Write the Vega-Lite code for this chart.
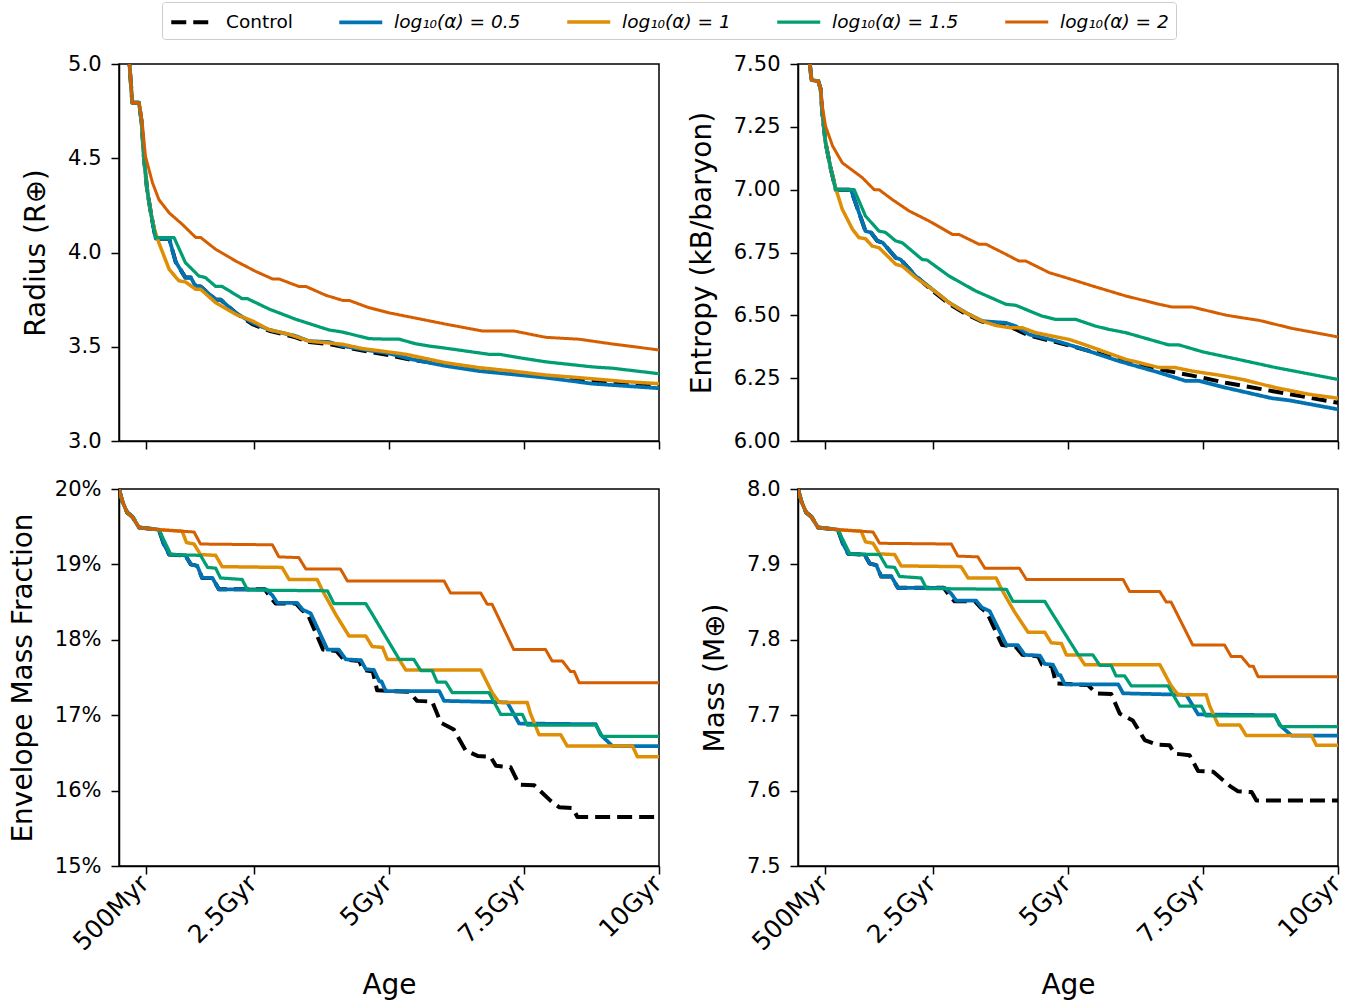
{
  "$schema": "https://vega.github.io/schema/vega-lite/v6.json",
  "padding": {"left": 8, "top": 1, "right": 10, "bottom": 4},
  "background": "white",
  "config": {
    "font": "DejaVu Sans",
    "view": {"stroke": "black", "strokeWidth": 1.5},
    "axis": {
      "labelFont": "DejaVu Sans", "labelFontSize": 21, "labelColor": "black",
      "titleFont": "DejaVu Sans", "titleFontSize": 28, "titleFontWeight": "normal", "titleColor": "black",
      "tickSize": 8, "tickWidth": 1.5, "tickColor": "black",
      "domainColor": "black", "domainWidth": 1.5, "grid": false, "labelPadding": 10
    },
    "legend": {
      "labelFont": "DejaVu Sans", "labelFontSize": 18.5, "labelColor": "black"
    },
    "line": {"strokeCap": "butt", "strokeJoin": "round"}
  },
  "datasets": {
    "rad": [
      {"s":"Control","x":0.12,"y":5.3},{"s":"Control","x":0.194,"y":5.0},{"s":"Control","x":0.246,"y":4.795},{"s":"Control","x":0.37,"y":4.795},{"s":"Control","x":0.42,"y":4.69},{"s":"Control","x":0.46,"y":4.51},{"s":"Control","x":0.52,"y":4.335},{"s":"Control","x":0.59,"y":4.21},{"s":"Control","x":0.68,"y":4.073},{"s":"Control","x":0.93,"y":4.073},{"s":"Control","x":1.05,"y":3.95},{"s":"Control","x":1.23,"y":3.867},{"s":"Control","x":1.33,"y":3.867},{"s":"Control","x":1.42,"y":3.82},{"s":"Control","x":1.51,"y":3.82},{"s":"Control","x":1.79,"y":3.75},{"s":"Control","x":1.88,"y":3.75},{"s":"Control","x":2.16,"y":3.68},{"s":"Control","x":2.47,"y":3.62},{"s":"Control","x":2.78,"y":3.585},{"s":"Control","x":3.27,"y":3.55},{"s":"Control","x":3.52,"y":3.525},{"s":"Control","x":3.89,"y":3.515},{"s":"Control","x":4.14,"y":3.5},{"s":"Control","x":4.51,"y":3.48},{"s":"Control","x":5.0,"y":3.455},{"s":"Control","x":5.43,"y":3.43},{"s":"Control","x":6.05,"y":3.407},{"s":"Control","x":6.67,"y":3.385},{"s":"Control","x":7.28,"y":3.365},{"s":"Control","x":7.9,"y":3.345},{"s":"Control","x":8.77,"y":3.32},{"s":"Control","x":10,"y":3.297},
      {"s":"0.5","x":0.12,"y":5.3},{"s":"0.5","x":0.194,"y":5.0},{"s":"0.5","x":0.246,"y":4.795},{"s":"0.5","x":0.37,"y":4.795},{"s":"0.5","x":0.42,"y":4.69},{"s":"0.5","x":0.46,"y":4.51},{"s":"0.5","x":0.52,"y":4.335},{"s":"0.5","x":0.59,"y":4.21},{"s":"0.5","x":0.68,"y":4.073},{"s":"0.5","x":0.93,"y":4.073},{"s":"0.5","x":1.05,"y":3.95},{"s":"0.5","x":1.23,"y":3.867},{"s":"0.5","x":1.33,"y":3.867},{"s":"0.5","x":1.42,"y":3.82},{"s":"0.5","x":1.51,"y":3.82},{"s":"0.5","x":1.79,"y":3.75},{"s":"0.5","x":1.88,"y":3.75},{"s":"0.5","x":2.16,"y":3.68},{"s":"0.5","x":2.47,"y":3.627},{"s":"0.5","x":2.78,"y":3.59},{"s":"0.5","x":3.27,"y":3.557},{"s":"0.5","x":3.52,"y":3.53},{"s":"0.5","x":3.89,"y":3.525},{"s":"0.5","x":4.14,"y":3.504},{"s":"0.5","x":4.51,"y":3.486},{"s":"0.5","x":5.0,"y":3.465},{"s":"0.5","x":5.43,"y":3.433},{"s":"0.5","x":6.05,"y":3.398},{"s":"0.5","x":6.67,"y":3.371},{"s":"0.5","x":7.28,"y":3.354},{"s":"0.5","x":7.9,"y":3.336},{"s":"0.5","x":8.77,"y":3.304},{"s":"0.5","x":10,"y":3.28},
      {"s":"1","x":0.12,"y":5.3},{"s":"1","x":0.194,"y":5.0},{"s":"1","x":0.246,"y":4.795},{"s":"1","x":0.37,"y":4.795},{"s":"1","x":0.42,"y":4.69},{"s":"1","x":0.46,"y":4.51},{"s":"1","x":0.52,"y":4.335},{"s":"1","x":0.59,"y":4.21},{"s":"1","x":0.66,"y":4.12},{"s":"1","x":0.74,"y":4.05},{"s":"1","x":0.93,"y":3.91},{"s":"1","x":1.11,"y":3.85},{"s":"1","x":1.23,"y":3.844},{"s":"1","x":1.42,"y":3.805},{"s":"1","x":1.51,"y":3.805},{"s":"1","x":1.79,"y":3.734},{"s":"1","x":2.16,"y":3.672},{"s":"1","x":2.47,"y":3.637},{"s":"1","x":2.78,"y":3.59},{"s":"1","x":3.15,"y":3.566},{"s":"1","x":3.52,"y":3.53},{"s":"1","x":4.14,"y":3.513},{"s":"1","x":4.51,"y":3.49},{"s":"1","x":5.0,"y":3.472},{"s":"1","x":5.31,"y":3.46},{"s":"1","x":6.05,"y":3.415},{"s":"1","x":6.67,"y":3.389},{"s":"1","x":7.28,"y":3.371},{"s":"1","x":7.9,"y":3.35},{"s":"1","x":8.52,"y":3.336},{"s":"1","x":9.38,"y":3.315},{"s":"1","x":10,"y":3.304},
      {"s":"1.5","x":0.12,"y":5.3},{"s":"1.5","x":0.194,"y":5.0},{"s":"1.5","x":0.246,"y":4.795},{"s":"1.5","x":0.37,"y":4.795},{"s":"1.5","x":0.42,"y":4.69},{"s":"1.5","x":0.46,"y":4.51},{"s":"1.5","x":0.52,"y":4.335},{"s":"1.5","x":0.59,"y":4.21},{"s":"1.5","x":0.68,"y":4.079},{"s":"1.5","x":1.02,"y":4.079},{"s":"1.5","x":1.23,"y":3.946},{"s":"1.5","x":1.48,"y":3.875},{"s":"1.5","x":1.6,"y":3.867},{"s":"1.5","x":1.79,"y":3.82},{"s":"1.5","x":1.91,"y":3.82},{"s":"1.5","x":2.28,"y":3.755},{"s":"1.5","x":2.38,"y":3.755},{"s":"1.5","x":2.78,"y":3.7},{"s":"1.5","x":3.27,"y":3.646},{"s":"1.5","x":3.89,"y":3.589},{"s":"1.5","x":4.14,"y":3.578},{"s":"1.5","x":4.63,"y":3.543},{"s":"1.5","x":5.0,"y":3.54},{"s":"1.5","x":5.19,"y":3.54},{"s":"1.5","x":5.49,"y":3.516},{"s":"1.5","x":5.74,"y":3.504},{"s":"1.5","x":6.11,"y":3.49},{"s":"1.5","x":6.85,"y":3.46},{"s":"1.5","x":7.04,"y":3.46},{"s":"1.5","x":7.41,"y":3.442},{"s":"1.5","x":7.9,"y":3.42},{"s":"1.5","x":8.77,"y":3.393},{"s":"1.5","x":9.14,"y":3.386},{"s":"1.5","x":10,"y":3.357},
      {"s":"2","x":0.12,"y":5.3},{"s":"2","x":0.194,"y":5.0},{"s":"2","x":0.246,"y":4.795},{"s":"2","x":0.37,"y":4.795},{"s":"2","x":0.43,"y":4.69},{"s":"2","x":0.49,"y":4.51},{"s":"2","x":0.62,"y":4.37},{"s":"2","x":0.74,"y":4.28},{"s":"2","x":0.93,"y":4.21},{"s":"2","x":1.17,"y":4.15},{"s":"2","x":1.42,"y":4.08},{"s":"2","x":1.51,"y":4.08},{"s":"2","x":1.79,"y":4.017},{"s":"2","x":2.16,"y":3.955},{"s":"2","x":2.53,"y":3.9},{"s":"2","x":2.84,"y":3.86},{"s":"2","x":2.96,"y":3.86},{"s":"2","x":3.33,"y":3.82},{"s":"2","x":3.46,"y":3.82},{"s":"2","x":3.83,"y":3.773},{"s":"2","x":4.14,"y":3.746},{"s":"2","x":4.26,"y":3.746},{"s":"2","x":4.63,"y":3.707},{"s":"2","x":5.0,"y":3.68},{"s":"2","x":6.05,"y":3.62},{"s":"2","x":6.72,"y":3.584},{"s":"2","x":7.31,"y":3.584},{"s":"2","x":7.9,"y":3.55},{"s":"2","x":8.52,"y":3.54},{"s":"2","x":9.13,"y":3.515},{"s":"2","x":10,"y":3.483}
    ],
    "ent": [
      {"s":"Control","x":0.15,"y":7.85},{"s":"Control","x":0.22,"y":7.5},{"s":"Control","x":0.25,"y":7.436},{"s":"Control","x":0.375,"y":7.432},{"s":"Control","x":0.42,"y":7.4},{"s":"Control","x":0.45,"y":7.306},{"s":"Control","x":0.51,"y":7.187},{"s":"Control","x":0.61,"y":7.08},{"s":"Control","x":0.7,"y":7.0},{"s":"Control","x":0.98,"y":7.0},{"s":"Control","x":1.25,"y":6.835},{"s":"Control","x":1.35,"y":6.83},{"s":"Control","x":1.47,"y":6.796},{"s":"Control","x":1.57,"y":6.789},{"s":"Control","x":1.81,"y":6.729},{"s":"Control","x":1.9,"y":6.722},{"s":"Control","x":2.18,"y":6.656},{"s":"Control","x":2.49,"y":6.598},{"s":"Control","x":2.8,"y":6.545},{"s":"Control","x":3.11,"y":6.505},{"s":"Control","x":3.41,"y":6.475},{"s":"Control","x":3.85,"y":6.462},{"s":"Control","x":4.28,"y":6.42},{"s":"Control","x":4.65,"y":6.4},{"s":"Control","x":4.83,"y":6.391},{"s":"Control","x":5.2,"y":6.37},{"s":"Control","x":5.94,"y":6.325},{"s":"Control","x":6.69,"y":6.285},{"s":"Control","x":7.3,"y":6.26},{"s":"Control","x":7.92,"y":6.232},{"s":"Control","x":8.85,"y":6.196},{"s":"Control","x":10,"y":6.152},
      {"s":"0.5","x":0.15,"y":7.85},{"s":"0.5","x":0.22,"y":7.5},{"s":"0.5","x":0.25,"y":7.436},{"s":"0.5","x":0.375,"y":7.432},{"s":"0.5","x":0.42,"y":7.4},{"s":"0.5","x":0.45,"y":7.306},{"s":"0.5","x":0.51,"y":7.187},{"s":"0.5","x":0.61,"y":7.08},{"s":"0.5","x":0.7,"y":7.0},{"s":"0.5","x":0.98,"y":7.0},{"s":"0.5","x":1.25,"y":6.835},{"s":"0.5","x":1.35,"y":6.83},{"s":"0.5","x":1.47,"y":6.796},{"s":"0.5","x":1.57,"y":6.789},{"s":"0.5","x":1.81,"y":6.729},{"s":"0.5","x":1.9,"y":6.722},{"s":"0.5","x":2.18,"y":6.656},{"s":"0.5","x":2.49,"y":6.603},{"s":"0.5","x":2.8,"y":6.55},{"s":"0.5","x":3.11,"y":6.51},{"s":"0.5","x":3.41,"y":6.477},{"s":"0.5","x":3.85,"y":6.47},{"s":"0.5","x":4.03,"y":6.457},{"s":"0.5","x":4.28,"y":6.424},{"s":"0.5","x":4.65,"y":6.405},{"s":"0.5","x":4.83,"y":6.395},{"s":"0.5","x":5.2,"y":6.371},{"s":"0.5","x":5.94,"y":6.318},{"s":"0.5","x":6.69,"y":6.272},{"s":"0.5","x":7.18,"y":6.239},{"s":"0.5","x":7.43,"y":6.239},{"s":"0.5","x":7.92,"y":6.212},{"s":"0.5","x":8.78,"y":6.17},{"s":"0.5","x":9.09,"y":6.162},{"s":"0.5","x":10,"y":6.126},
      {"s":"1","x":0.15,"y":7.85},{"s":"1","x":0.22,"y":7.5},{"s":"1","x":0.25,"y":7.436},{"s":"1","x":0.375,"y":7.432},{"s":"1","x":0.42,"y":7.4},{"s":"1","x":0.45,"y":7.306},{"s":"1","x":0.51,"y":7.187},{"s":"1","x":0.61,"y":7.08},{"s":"1","x":0.72,"y":6.99},{"s":"1","x":0.82,"y":6.922},{"s":"1","x":1.01,"y":6.842},{"s":"1","x":1.13,"y":6.809},{"s":"1","x":1.25,"y":6.805},{"s":"1","x":1.37,"y":6.776},{"s":"1","x":1.5,"y":6.769},{"s":"1","x":1.69,"y":6.729},{"s":"1","x":1.81,"y":6.703},{"s":"1","x":1.93,"y":6.696},{"s":"1","x":2.18,"y":6.65},{"s":"1","x":2.49,"y":6.603},{"s":"1","x":2.8,"y":6.55},{"s":"1","x":3.11,"y":6.51},{"s":"1","x":3.41,"y":6.477},{"s":"1","x":3.66,"y":6.46},{"s":"1","x":3.91,"y":6.451},{"s":"1","x":4.15,"y":6.451},{"s":"1","x":4.4,"y":6.431},{"s":"1","x":4.65,"y":6.42},{"s":"1","x":5.02,"y":6.404},{"s":"1","x":5.26,"y":6.387},{"s":"1","x":6.07,"y":6.325},{"s":"1","x":6.69,"y":6.292},{"s":"1","x":6.99,"y":6.292},{"s":"1","x":7.3,"y":6.278},{"s":"1","x":7.8,"y":6.262},{"s":"1","x":8.23,"y":6.245},{"s":"1","x":8.85,"y":6.212},{"s":"1","x":9.46,"y":6.186},{"s":"1","x":10,"y":6.17},
      {"s":"1.5","x":0.15,"y":7.85},{"s":"1.5","x":0.22,"y":7.5},{"s":"1.5","x":0.25,"y":7.436},{"s":"1.5","x":0.375,"y":7.432},{"s":"1.5","x":0.42,"y":7.4},{"s":"1.5","x":0.45,"y":7.306},{"s":"1.5","x":0.51,"y":7.187},{"s":"1.5","x":0.61,"y":7.08},{"s":"1.5","x":0.7,"y":7.0},{"s":"1.5","x":1.04,"y":7.0},{"s":"1.5","x":1.25,"y":6.895},{"s":"1.5","x":1.5,"y":6.835},{"s":"1.5","x":1.62,"y":6.83},{"s":"1.5","x":1.81,"y":6.796},{"s":"1.5","x":1.93,"y":6.789},{"s":"1.5","x":2.3,"y":6.722},{"s":"1.5","x":2.39,"y":6.72},{"s":"1.5","x":2.8,"y":6.656},{"s":"1.5","x":3.29,"y":6.597},{"s":"1.5","x":3.85,"y":6.544},{"s":"1.5","x":4.03,"y":6.54},{"s":"1.5","x":4.52,"y":6.497},{"s":"1.5","x":4.77,"y":6.484},{"s":"1.5","x":5.14,"y":6.484},{"s":"1.5","x":5.51,"y":6.457},{"s":"1.5","x":5.76,"y":6.444},{"s":"1.5","x":6.07,"y":6.431},{"s":"1.5","x":6.87,"y":6.382},{"s":"1.5","x":7.06,"y":6.382},{"s":"1.5","x":7.49,"y":6.355},{"s":"1.5","x":8.23,"y":6.321},{"s":"1.5","x":8.85,"y":6.292},{"s":"1.5","x":10,"y":6.245},
      {"s":"2","x":0.15,"y":7.85},{"s":"2","x":0.22,"y":7.5},{"s":"2","x":0.25,"y":7.436},{"s":"2","x":0.375,"y":7.432},{"s":"2","x":0.42,"y":7.4},{"s":"2","x":0.45,"y":7.333},{"s":"2","x":0.51,"y":7.253},{"s":"2","x":0.64,"y":7.174},{"s":"2","x":0.82,"y":7.107},{"s":"2","x":1.07,"y":7.067},{"s":"2","x":1.19,"y":7.048},{"s":"2","x":1.41,"y":7.0},{"s":"2","x":1.5,"y":7.0},{"s":"2","x":1.75,"y":6.96},{"s":"2","x":2.06,"y":6.915},{"s":"2","x":2.43,"y":6.875},{"s":"2","x":2.86,"y":6.822},{"s":"2","x":2.98,"y":6.822},{"s":"2","x":3.35,"y":6.783},{"s":"2","x":3.48,"y":6.783},{"s":"2","x":3.85,"y":6.743},{"s":"2","x":4.09,"y":6.716},{"s":"2","x":4.22,"y":6.716},{"s":"2","x":4.65,"y":6.67},{"s":"2","x":5.02,"y":6.646},{"s":"2","x":5.45,"y":6.617},{"s":"2","x":6.07,"y":6.577},{"s":"2","x":6.69,"y":6.544},{"s":"2","x":6.93,"y":6.533},{"s":"2","x":7.3,"y":6.533},{"s":"2","x":7.92,"y":6.501},{"s":"2","x":8.29,"y":6.488},{"s":"2","x":8.54,"y":6.48},{"s":"2","x":9.15,"y":6.448},{"s":"2","x":10,"y":6.414}
    ],
    "env": [
      {"s":"Control","x":0,"f":0.2,"m":8.0},{"s":"Control","x":0.06,"f":0.1984,"m":7.984},{"s":"Control","x":0.15,"f":0.1969,"m":7.969},{"s":"Control","x":0.25,"f":0.1963,"m":7.963},{"s":"Control","x":0.37,"f":0.1949,"m":7.949},{"s":"Control","x":0.62,"f":0.1947,"m":7.947},{"s":"Control","x":0.74,"f":0.1946,"m":7.946},{"s":"Control","x":0.83,"f":0.1927,"m":7.928},{"s":"Control","x":0.93,"f":0.1913,"m":7.914},{"s":"Control","x":1.23,"f":0.1912,"m":7.913},{"s":"Control","x":1.33,"f":0.19,"m":7.901},{"s":"Control","x":1.45,"f":0.1898,"m":7.899},{"s":"Control","x":1.54,"f":0.1882,"m":7.884},{"s":"Control","x":1.73,"f":0.1882,"m":7.884},{"s":"Control","x":1.85,"f":0.1867,"m":7.869},{"s":"Control","x":2.7,"f":0.1867,"m":7.869},{"s":"Control","x":2.8,"f":0.1857,"m":7.859},{"s":"Control","x":2.9,"f":0.1848,"m":7.851},{"s":"Control","x":3.28,"f":0.1848,"m":7.851},{"s":"Control","x":3.38,"f":0.184,"m":7.843},{"s":"Control","x":3.5,"f":0.1833,"m":7.836},{"s":"Control","x":3.78,"f":0.1787,"m":7.793},{"s":"Control","x":4.03,"f":0.1785,"m":7.791},{"s":"Control","x":4.16,"f":0.1774,"m":7.78},{"s":"Control","x":4.45,"f":0.1772,"m":7.778},{"s":"Control","x":4.52,"f":0.176,"m":7.767},{"s":"Control","x":4.7,"f":0.1758,"m":7.765},{"s":"Control","x":4.78,"f":0.1733,"m":7.742},{"s":"Control","x":5.37,"f":0.1731,"m":7.74},{"s":"Control","x":5.52,"f":0.1719,"m":7.729},{"s":"Control","x":5.8,"f":0.1718,"m":7.728},{"s":"Control","x":5.96,"f":0.169,"m":7.702},{"s":"Control","x":6.2,"f":0.1681,"m":7.693},{"s":"Control","x":6.42,"f":0.1653,"m":7.667},{"s":"Control","x":6.64,"f":0.1646,"m":7.661},{"s":"Control","x":6.88,"f":0.1645,"m":7.66},{"s":"Control","x":6.98,"f":0.1633,"m":7.649},{"s":"Control","x":7.25,"f":0.1631,"m":7.647},{"s":"Control","x":7.41,"f":0.1608,"m":7.626},{"s":"Control","x":7.69,"f":0.1607,"m":7.625},{"s":"Control","x":8.0,"f":0.1586,"m":7.606},{"s":"Control","x":8.15,"f":0.1578,"m":7.599},{"s":"Control","x":8.4,"f":0.1577,"m":7.598},{"s":"Control","x":8.49,"f":0.1565,"m":7.587},{"s":"Control","x":10,"f":0.1565,"m":7.587},
      {"s":"0.5","x":0,"f":0.2,"m":8.0},{"s":"0.5","x":0.06,"f":0.1984,"m":7.984},{"s":"0.5","x":0.15,"f":0.1969,"m":7.969},{"s":"0.5","x":0.25,"f":0.1963,"m":7.963},{"s":"0.5","x":0.37,"f":0.1949,"m":7.949},{"s":"0.5","x":0.62,"f":0.1947,"m":7.947},{"s":"0.5","x":0.74,"f":0.1946,"m":7.946},{"s":"0.5","x":0.83,"f":0.1927,"m":7.928},{"s":"0.5","x":0.93,"f":0.1913,"m":7.914},{"s":"0.5","x":1.23,"f":0.1912,"m":7.913},{"s":"0.5","x":1.33,"f":0.19,"m":7.901},{"s":"0.5","x":1.45,"f":0.1898,"m":7.899},{"s":"0.5","x":1.54,"f":0.1882,"m":7.884},{"s":"0.5","x":1.73,"f":0.1882,"m":7.884},{"s":"0.5","x":1.85,"f":0.1867,"m":7.869},{"s":"0.5","x":2.72,"f":0.1867,"m":7.869},{"s":"0.5","x":2.84,"f":0.1859,"m":7.861},{"s":"0.5","x":2.93,"f":0.1849,"m":7.852},{"s":"0.5","x":3.3,"f":0.1849,"m":7.852},{"s":"0.5","x":3.4,"f":0.184,"m":7.843},{"s":"0.5","x":3.55,"f":0.1835,"m":7.838},{"s":"0.5","x":3.86,"f":0.1787,"m":7.793},{"s":"0.5","x":4.07,"f":0.1787,"m":7.793},{"s":"0.5","x":4.2,"f":0.1774,"m":7.78},{"s":"0.5","x":4.48,"f":0.1773,"m":7.779},{"s":"0.5","x":4.57,"f":0.1761,"m":7.768},{"s":"0.5","x":4.72,"f":0.176,"m":7.767},{"s":"0.5","x":4.82,"f":0.1745,"m":7.753},{"s":"0.5","x":4.86,"f":0.1745,"m":7.753},{"s":"0.5","x":4.94,"f":0.1732,"m":7.741},{"s":"0.5","x":5.93,"f":0.1732,"m":7.741},{"s":"0.5","x":6.02,"f":0.1719,"m":7.729},{"s":"0.5","x":7.19,"f":0.1717,"m":7.727},{"s":"0.5","x":7.41,"f":0.1689,"m":7.701},{"s":"0.5","x":8.83,"f":0.1688,"m":7.7},{"s":"0.5","x":8.92,"f":0.1674,"m":7.687},{"s":"0.5","x":9.14,"f":0.1659,"m":7.673},{"s":"0.5","x":10,"f":0.1659,"m":7.673},
      {"s":"1","x":0,"f":0.2,"m":8.0},{"s":"1","x":0.06,"f":0.1984,"m":7.984},{"s":"1","x":0.15,"f":0.1969,"m":7.969},{"s":"1","x":0.25,"f":0.1963,"m":7.963},{"s":"1","x":0.37,"f":0.1949,"m":7.949},{"s":"1","x":0.62,"f":0.1947,"m":7.947},{"s":"1","x":0.74,"f":0.1946,"m":7.946},{"s":"1","x":1.17,"f":0.1944,"m":7.944},{"s":"1","x":1.25,"f":0.1929,"m":7.93},{"s":"1","x":1.39,"f":0.1927,"m":7.928},{"s":"1","x":1.51,"f":0.1913,"m":7.914},{"s":"1","x":1.79,"f":0.1912,"m":7.913},{"s":"1","x":1.91,"f":0.1897,"m":7.898},{"s":"1","x":3.02,"f":0.1896,"m":7.897},{"s":"1","x":3.15,"f":0.188,"m":7.882},{"s":"1","x":3.67,"f":0.188,"m":7.882},{"s":"1","x":3.77,"f":0.1865,"m":7.867},{"s":"1","x":4.01,"f":0.1834,"m":7.837},{"s":"1","x":4.26,"f":0.1805,"m":7.81},{"s":"1","x":4.57,"f":0.1805,"m":7.81},{"s":"1","x":4.69,"f":0.1791,"m":7.796},{"s":"1","x":4.88,"f":0.179,"m":7.795},{"s":"1","x":4.97,"f":0.1774,"m":7.78},{"s":"1","x":5.19,"f":0.1774,"m":7.78},{"s":"1","x":5.31,"f":0.176,"m":7.767},{"s":"1","x":6.7,"f":0.176,"m":7.767},{"s":"1","x":6.91,"f":0.173,"m":7.739},{"s":"1","x":7.04,"f":0.1717,"m":7.727},{"s":"1","x":7.56,"f":0.1717,"m":7.727},{"s":"1","x":7.62,"f":0.1702,"m":7.713},{"s":"1","x":7.78,"f":0.1674,"m":7.687},{"s":"1","x":8.18,"f":0.1674,"m":7.687},{"s":"1","x":8.3,"f":0.1659,"m":7.673},{"s":"1","x":9.51,"f":0.1659,"m":7.673},{"s":"1","x":9.6,"f":0.1645,"m":7.66},{"s":"1","x":10,"f":0.1645,"m":7.66},
      {"s":"1.5","x":0,"f":0.2,"m":8.0},{"s":"1.5","x":0.06,"f":0.1984,"m":7.984},{"s":"1.5","x":0.15,"f":0.1969,"m":7.969},{"s":"1.5","x":0.25,"f":0.1963,"m":7.963},{"s":"1.5","x":0.37,"f":0.1949,"m":7.949},{"s":"1.5","x":0.62,"f":0.1947,"m":7.947},{"s":"1.5","x":0.74,"f":0.1946,"m":7.946},{"s":"1.5","x":0.96,"f":0.1913,"m":7.914},{"s":"1.5","x":1.51,"f":0.1912,"m":7.913},{"s":"1.5","x":1.64,"f":0.1896,"m":7.897},{"s":"1.5","x":1.79,"f":0.1895,"m":7.896},{"s":"1.5","x":1.88,"f":0.1882,"m":7.884},{"s":"1.5","x":2.28,"f":0.188,"m":7.882},{"s":"1.5","x":2.38,"f":0.1866,"m":7.868},{"s":"1.5","x":3.86,"f":0.1865,"m":7.867},{"s":"1.5","x":3.98,"f":0.1848,"m":7.851},{"s":"1.5","x":4.57,"f":0.1848,"m":7.851},{"s":"1.5","x":4.69,"f":0.1834,"m":7.837},{"s":"1.5","x":5.19,"f":0.1774,"m":7.78},{"s":"1.5","x":5.46,"f":0.1774,"m":7.78},{"s":"1.5","x":5.59,"f":0.1759,"m":7.766},{"s":"1.5","x":5.8,"f":0.1759,"m":7.766},{"s":"1.5","x":5.89,"f":0.1744,"m":7.752},{"s":"1.5","x":6.05,"f":0.1744,"m":7.752},{"s":"1.5","x":6.17,"f":0.173,"m":7.739},{"s":"1.5","x":6.85,"f":0.173,"m":7.739},{"s":"1.5","x":7.07,"f":0.1701,"m":7.712},{"s":"1.5","x":7.47,"f":0.1701,"m":7.712},{"s":"1.5","x":7.56,"f":0.1687,"m":7.699},{"s":"1.5","x":8.83,"f":0.1687,"m":7.699},{"s":"1.5","x":8.95,"f":0.1672,"m":7.685},{"s":"1.5","x":10,"f":0.1672,"m":7.685},
      {"s":"2","x":0,"f":0.2,"m":8.0},{"s":"2","x":0.06,"f":0.1984,"m":7.984},{"s":"2","x":0.15,"f":0.1969,"m":7.969},{"s":"2","x":0.25,"f":0.1963,"m":7.963},{"s":"2","x":0.37,"f":0.1949,"m":7.949},{"s":"2","x":0.62,"f":0.1947,"m":7.947},{"s":"2","x":0.74,"f":0.1946,"m":7.946},{"s":"2","x":1.17,"f":0.1944,"m":7.944},{"s":"2","x":1.39,"f":0.1943,"m":7.943},{"s":"2","x":1.51,"f":0.1927,"m":7.928},{"s":"2","x":2.84,"f":0.1926,"m":7.927},{"s":"2","x":2.96,"f":0.191,"m":7.911},{"s":"2","x":3.33,"f":0.1909,"m":7.91},{"s":"2","x":3.46,"f":0.1894,"m":7.895},{"s":"2","x":4.1,"f":0.1894,"m":7.895},{"s":"2","x":4.23,"f":0.1878,"m":7.88},{"s":"2","x":6.02,"f":0.1878,"m":7.88},{"s":"2","x":6.14,"f":0.1862,"m":7.864},{"s":"2","x":6.7,"f":0.1862,"m":7.864},{"s":"2","x":6.82,"f":0.1847,"m":7.85},{"s":"2","x":6.91,"f":0.1847,"m":7.85},{"s":"2","x":7.31,"f":0.1787,"m":7.793},{"s":"2","x":7.9,"f":0.1787,"m":7.793},{"s":"2","x":8.02,"f":0.1772,"m":7.778},{"s":"2","x":8.21,"f":0.1772,"m":7.778},{"s":"2","x":8.36,"f":0.1758,"m":7.765},{"s":"2","x":8.43,"f":0.1758,"m":7.765},{"s":"2","x":8.52,"f":0.1743,"m":7.751},{"s":"2","x":10,"f":0.1743,"m":7.751}
    ]
  },
  "columns": 2,
  "bounds": "flush",
  "spacing": {"row": 48, "column": 139},
  "resolve": {"scale": {"x": "independent", "y": "independent"}},
  "concat": [
    {
      "width": 540, "height": 377,
      "data": {"name": "rad"},
      "mark": {"type": "line", "clip": true},
      "encoding": {
        "x": {"field": "x", "type": "quantitative", "scale": {"domain": [0, 10], "nice": false, "zero": false},
              "axis": {"values": [0.5, 2.5, 5, 7.5, 10], "labels": false, "title": null}},
        "y": {"field": "y", "type": "quantitative", "scale": {"domain": [3, 5], "nice": false, "zero": false},
              "axis": {"values": [3, 3.5, 4, 4.5, 5], "format": ".1f", "title": "Radius (R⊕)", "titlePadding": 17}},
        "color": {"field": "s", "type": "nominal",
                  "scale": {"domain": ["Control", "0.5", "1", "1.5", "2"], "range": ["#000000", "#0173B2", "#DE8F05", "#029E73", "#D55E00"]},
                  "legend": {"orient": "none", "legendX": 43, "legendY": -62, "direction": "horizontal", "columns": 5,
                             "title": null, "symbolType": "M-1,0H3", "symbolSize": 462, "symbolStrokeWidth": 3,
                             "labelOffset": 31, "columnPadding": 44, "padding": 7, "strokeColor": "#cccccc", "fillColor": "white", "cornerRadius": 3,
                             "labelExpr": "datum.label == 'Control' ? 'Control' : 'log₁₀(α) = ' + datum.label",
                             "labelFontStyle": {"expr": "datum.label == 'Control' ? 'normal' : 'italic'"}}},
        "strokeDash": {"field": "s", "type": "nominal",
                  "scale": {"domain": ["Control", "0.5", "1", "1.5", "2"], "range": [[15, 7], [1, 0], [1, 0], [1, 0], [1, 0]]},
                  "legend": {"orient": "none", "legendX": 43, "legendY": -62, "direction": "horizontal", "columns": 5,
                             "title": null, "symbolType": "M-1,0H3", "symbolSize": 462, "symbolStrokeWidth": 3,
                             "labelOffset": 31, "columnPadding": 44, "padding": 7, "strokeColor": "#cccccc", "fillColor": "white", "cornerRadius": 3,
                             "labelExpr": "datum.label == 'Control' ? 'Control' : 'log₁₀(α) = ' + datum.label",
                             "labelFontStyle": {"expr": "datum.label == 'Control' ? 'normal' : 'italic'"}}},
        "strokeWidth": {"field": "s", "type": "nominal",
                  "scale": {"domain": ["Control", "0.5", "1", "1.5", "2"], "range": [4, 3, 3, 3, 3]}, "legend": null}
      }
    },
    {
      "width": 540, "height": 377,
      "data": {"name": "ent"},
      "mark": {"type": "line", "clip": true},
      "encoding": {
        "x": {"field": "x", "type": "quantitative", "scale": {"domain": [0, 10], "nice": false, "zero": false},
              "axis": {"values": [0.5, 2.5, 5, 7.5, 10], "labels": false, "title": null}},
        "y": {"field": "y", "type": "quantitative", "scale": {"domain": [6, 7.5], "nice": false, "zero": false},
              "axis": {"values": [6, 6.25, 6.5, 6.75, 7, 7.25, 7.5], "format": ".2f", "title": "Entropy (kB/baryon)", "titlePadding": 17}},
        "color": {"field": "s", "type": "nominal", "scale": {"domain": ["Control", "0.5", "1", "1.5", "2"], "range": ["#000000", "#0173B2", "#DE8F05", "#029E73", "#D55E00"]}},
        "strokeDash": {"field": "s", "type": "nominal", "scale": {"domain": ["Control", "0.5", "1", "1.5", "2"], "range": [[15, 7], [1, 0], [1, 0], [1, 0], [1, 0]]}},
        "strokeWidth": {"field": "s", "type": "nominal", "scale": {"domain": ["Control", "0.5", "1", "1.5", "2"], "range": [4, 3, 3, 3, 3]}, "legend": null}
      }
    },
    {
      "width": 540, "height": 377,
      "data": {"name": "env"},
      "mark": {"type": "line", "clip": true},
      "encoding": {
        "x": {"field": "x", "type": "quantitative", "scale": {"domain": [0, 10], "nice": false, "zero": false},
              "axis": {"values": [0.5, 2.5, 5, 7.5, 10], "title": "Age", "labelAngle": -45, "labelAlign": "right", "labelBaseline": "middle", "labelOffset": -2, "labelPadding": 5, "labelFontSize": 25, "titlePadding": 17,
                       "labelExpr": "datum.value == 0.5 ? '500Myr' : datum.value + 'Gyr'"}},
        "y": {"field": "f", "type": "quantitative", "scale": {"domain": [0.15, 0.2], "nice": false, "zero": false},
              "axis": {"values": [0.15, 0.16, 0.17, 0.18, 0.19, 0.2], "format": ".0%", "title": "Envelope Mass Fraction", "titlePadding": 17}},
        "color": {"field": "s", "type": "nominal", "scale": {"domain": ["Control", "0.5", "1", "1.5", "2"], "range": ["#000000", "#0173B2", "#DE8F05", "#029E73", "#D55E00"]}},
        "strokeDash": {"field": "s", "type": "nominal", "scale": {"domain": ["Control", "0.5", "1", "1.5", "2"], "range": [[15, 7], [1, 0], [1, 0], [1, 0], [1, 0]]}},
        "strokeWidth": {"field": "s", "type": "nominal", "scale": {"domain": ["Control", "0.5", "1", "1.5", "2"], "range": [4, 3, 3, 3, 3]}, "legend": null}
      }
    },
    {
      "width": 540, "height": 377,
      "data": {"name": "env"},
      "mark": {"type": "line", "clip": true},
      "encoding": {
        "x": {"field": "x", "type": "quantitative", "scale": {"domain": [0, 10], "nice": false, "zero": false},
              "axis": {"values": [0.5, 2.5, 5, 7.5, 10], "title": "Age", "labelAngle": -45, "labelAlign": "right", "labelBaseline": "middle", "labelOffset": -2, "labelPadding": 5, "labelFontSize": 25, "titlePadding": 17,
                       "labelExpr": "datum.value == 0.5 ? '500Myr' : datum.value + 'Gyr'"}},
        "y": {"field": "m", "type": "quantitative", "scale": {"domain": [7.5, 8.0], "nice": false, "zero": false},
              "axis": {"values": [7.5, 7.6, 7.7, 7.8, 7.9, 8.0], "format": ".1f", "title": "Mass (M⊕)", "titlePadding": 17}},
        "color": {"field": "s", "type": "nominal", "scale": {"domain": ["Control", "0.5", "1", "1.5", "2"], "range": ["#000000", "#0173B2", "#DE8F05", "#029E73", "#D55E00"]}},
        "strokeDash": {"field": "s", "type": "nominal", "scale": {"domain": ["Control", "0.5", "1", "1.5", "2"], "range": [[15, 7], [1, 0], [1, 0], [1, 0], [1, 0]]}},
        "strokeWidth": {"field": "s", "type": "nominal", "scale": {"domain": ["Control", "0.5", "1", "1.5", "2"], "range": [4, 3, 3, 3, 3]}, "legend": null}
      }
    }
  ]
}
